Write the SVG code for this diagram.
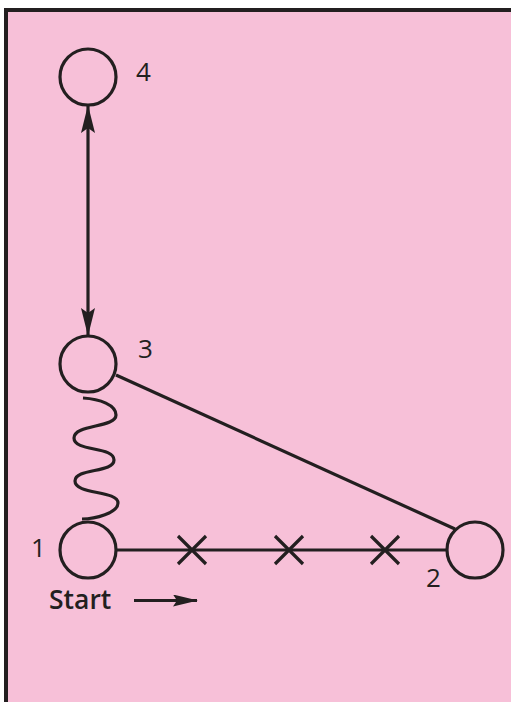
<svg xmlns="http://www.w3.org/2000/svg" width="511" height="702" viewBox="0 0 511 702">
<defs>
<style>
.node circle{fill:none;stroke:#231f20;stroke-width:3.2}
.lbl{font-family:"Open Sans","Liberation Sans",sans-serif;font-size:26px;fill:#231f20}
.conn path,.conn line{fill:none;stroke:#231f20;stroke-width:3.2}
</style>
<marker id="ah" viewBox="0 0 28 14" refX="27" refY="7" markerWidth="28" markerHeight="14" markerUnits="userSpaceOnUse" orient="auto-start-reverse">
<path d="M0,0 L28,7 L0,14 L5,7 Z" fill="#231f20"/>
</marker>
<marker id="ah2" viewBox="0 0 25 12" refX="24" refY="6" markerWidth="25" markerHeight="12" markerUnits="userSpaceOnUse" orient="auto">
<path d="M0,0 L25,6 L0,12 L4,6 Z" fill="#231f20"/>
</marker>
</defs>
<rect width="511" height="702" fill="#ffffff"/>
<rect x="6" y="10" width="520" height="720" fill="#f7c0d8" stroke="#231f20" stroke-width="4"/>
<g class="conn" id="connectors">
<line x1="88" y1="106" x2="88" y2="335" marker-start="url(#ah)" marker-end="url(#ah)"/>
<path d="M83,398 C100,399 116,405 116,415 C116,428 74,424 74,438 C74,452 114,446 114,460 C114,473 75,468 75,481 C75,495 118,490 118,503 C118,513 95,519 82,519"/>
<line x1="116" y1="375" x2="455" y2="529"/>
<line x1="117" y1="550" x2="447" y2="550"/>
<path d="M178,536 L206,564 M178,564 L206,536 M275,536 L303,564 M275,564 L303,536 M371,536 L399,564 M371,564 L399,536"/>
<line x1="134" y1="600.5" x2="197" y2="600.5" marker-end="url(#ah2)"/>
</g>
<g class="node" id="node4"><circle cx="88" cy="77" r="28"/><text class="lbl" x="136" y="81">4</text></g>
<g class="node" id="node3"><circle cx="88" cy="364" r="28"/><text class="lbl" x="138" y="358">3</text></g>
<g class="node" id="node1"><circle cx="88" cy="550" r="28"/><text class="lbl" x="31" y="557">1</text></g>
<g class="node" id="node2"><circle cx="475" cy="550" r="28"/><text class="lbl" x="426" y="587">2</text></g>
<text x="49" y="609" font-family="'Open Sans','Liberation Sans',sans-serif" font-size="26.5" font-weight="600" fill="#231f20">Start</text>
</svg>
